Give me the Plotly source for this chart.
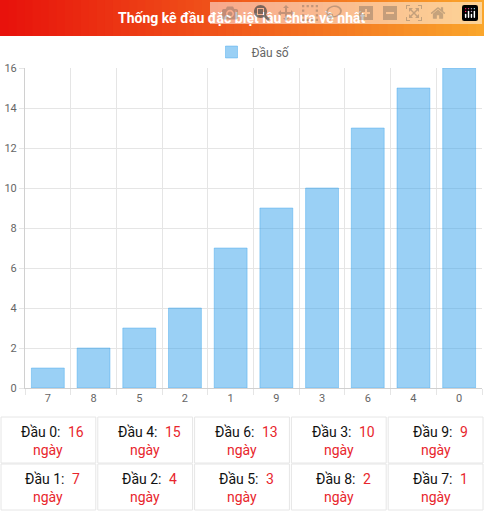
import plotly.graph_objects as go

categories = ["7", "8", "5", "2", "1", "9", "3", "6", "4", "0"]
values = [1, 2, 3, 4, 7, 9, 10, 13, 15, 16]
row1_labels = ["Đầu 0", "Đầu 4", "Đầu 6", "Đầu 3", "Đầu 9"]
row1_days = [16, 15, 13, 10, 9]
row2_labels = ["Đầu 1", "Đầu 2", "Đầu 5", "Đầu 8", "Đầu 7"]
row2_days = [7, 4, 3, 2, 1]

W, H = 484, 511
L, R, T, B = 25, 2, 68, 123
PW, PH = W - L - R, H - T - B

def px(x): return (x - L) / PW
def py(y): return (H - B - y) / PH

fig = go.Figure(go.Bar(x=categories, y=values, name="Đầu số",
                       marker=dict(color="rgba(54,162,235,0.5)", line=dict(color="rgba(54,162,235,0.4)", width=1)),
                       width=0.72))

shapes = []
n = 60
c0, c1 = (232, 18, 12), (250, 166, 44)
for i in range(n):
    t = i / (n - 1)
    c = tuple(int(c0[k] + (c1[k] - c0[k]) * t) for k in range(3))
    shapes.append(dict(type="rect", xref="paper", yref="paper", x0=px(W * i / n), x1=px(W * (i + 1) / n + 1),
                       y0=py(36), y1=py(0), fillcolor="rgb%s" % (c,), line=dict(width=0), layer="below"))
annotations = [dict(text="<b>Thống kê đầu đặc biệt lâu chưa về nhất</b>", xref="paper", yref="paper",
                    x=px(W / 2), y=py(18), xanchor="center", yanchor="middle", showarrow=False,
                    font=dict(color="white", size=14))]
RED = "#e8262d"
cw = W / 5
rows = [(row1_labels, row1_days, 417, 463), (row2_labels, row2_days, 464, 510)]
for labels, days, y0, y1 in rows:
    for i, (lab, d) in enumerate(zip(labels, days)):
        shapes.append(dict(type="rect", xref="paper", yref="paper", x0=px(i * cw + 1), x1=px((i + 1) * cw - 1),
                           y0=py(y1), y1=py(y0), line=dict(color="#e6e6e6", width=1), fillcolor="rgba(0,0,0,0)"))
        cx = i * cw + cw / 2
        numw = 8 * len(str(d))
        split = cx + 22 - numw / 2
        annotations.append(dict(text=lab + ":", xref="paper", yref="paper", x=px(split), y=py(y0 + 15),
                                xanchor="right", yanchor="middle", showarrow=False,
                                font=dict(size=14, color="#111", family="Roboto")))
        annotations.append(dict(text=str(d), xref="paper", yref="paper", x=px(split + 4), y=py(y0 + 15),
                                xanchor="left", yanchor="middle", showarrow=False,
                                font=dict(size=14, color=RED, family="Roboto")))
        annotations.append(dict(text="ngày", xref="paper", yref="paper", x=px(cx), y=py(y0 + 33),
                                xanchor="center", yanchor="middle", showarrow=False,
                                font=dict(size=14, color=RED, family="Roboto")))

fig.update_layout(width=W, height=H, margin=dict(l=L, r=R, t=T, b=B), plot_bgcolor="white", paper_bgcolor="white",
                  font=dict(family="Roboto", color="#666", size=11), bargap=0.3,
                  showlegend=True, legend=dict(orientation="h", x=0.5, xanchor="center", y=py(52), yanchor="middle",
                                               font=dict(size=12, color="#666")),
                  shapes=shapes, annotations=annotations)
fig.update_xaxes(showgrid=True, gridcolor="#e5e5e5", tickson="boundaries", ticks="outside", tickcolor="#e5e5e5",
                 ticklen=6, showline=True, linecolor="#d0d0d0", fixedrange=True)
fig.update_yaxes(range=[0, 16], dtick=2, showgrid=True, gridcolor="#e5e5e5", zeroline=False, showline=True,
                 linecolor="#d0d0d0", ticks="outside", tickcolor="#e5e5e5", ticklen=5)
fig.write_html("out.html", post_script="document.body.style.margin='0';document.body.style.overflow='hidden';")
